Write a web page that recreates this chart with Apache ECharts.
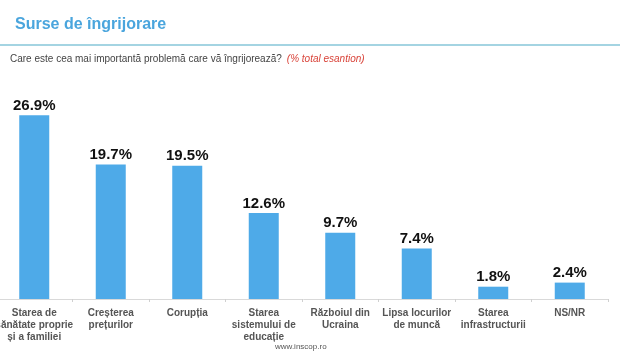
<!DOCTYPE html>
<html>
<head>
<meta charset="utf-8">
<script src="https://cdn.jsdelivr.net/npm/echarts@6/dist/echarts.min.js"></script>
<style>
  html, body { margin: 0; padding: 0; background: #fff; }
  #main { width: 620px; height: 354px; }
</style>
</head>
<body>
<div id="main"></div>
<script>
// categorii si procente
const categories = [
    'Starea de\nsănătate proprie\nși a familiei',
    'Creșterea\nprețurilor',
    'Corupția',
    'Starea\nsistemului de\neducație',
    'Războiul din\nUcraina',
    'Lipsa locurilor\nde muncă',
    'Starea\ninfrastructurii',
    'NS/NR'
];
const values = [26.9, 19.7, 19.5, 12.6, 9.7, 7.4, 1.8, 2.4];

const myChart = echarts.init(document.getElementById('main'));
myChart.setOption({
    animation: false,
    title: [{
        text: 'Surse de îngrijorare',
        left: 15, top: 17, padding: 0,
        textStyle: { color: '#4aa5dd', fontSize: 16, fontWeight: 'bold', fontFamily: 'Liberation Sans' }
    }, {
        text: '{a|Care este cea mai importantă problemă care vă îngrijorează?} {b|(% total esantion)}',
        left: 10, top: 50, padding: 0,
        textStyle: {
            fontWeight: 'normal',
            rich: {
                a: { color: '#444', fontSize: 10, fontWeight: 'normal', fontFamily: 'Liberation Sans' },
                b: { color: '#d9443a', fontSize: 10, fontStyle: 'italic', fontWeight: 'normal', fontFamily: 'Liberation Sans' }
            }
        }
    }, {
        text: 'www.inscop.ro',
        left: 275, top: 343, padding: 0,
        textStyle: { color: '#555', fontSize: 8, fontWeight: 'normal', fontFamily: 'Liberation Sans' }
    }],
    graphic: [{
        type: 'line',
        shape: { x1: 0, y1: 45, x2: 620, y2: 45 },
        style: { stroke: '#86c6d8', lineWidth: 1.5 }
    }],
    grid: { left: -4, right: 12, top: 94, bottom: 55, outerBoundsMode: 'none' },
    xAxis: {
        type: 'category',
        data: categories,
        axisLine: { lineStyle: { color: '#d9d9d9' } },
        axisTick: { show: true, length: 3, lineStyle: { color: '#d0d0d0' } },
        axisLabel: {
            interval: 0, margin: 8, color: '#555', fontSize: 10, fontWeight: 'bold',
            lineHeight: 12, fontFamily: 'Liberation Sans'
        }
    },
    yAxis: { type: 'value', min: 0, max: 30, show: false },
    series: [{
        type: 'bar',
        data: values,
        barWidth: 30,
        itemStyle: { color: '#4eaae8' },
        label: {
            show: true, position: 'top', distance: 2,
            formatter: p => p.value.toFixed(1) + '%',
            color: '#111', fontSize: 15, fontWeight: 'bold', fontFamily: 'Liberation Sans'
        }
    }]
});
</script>
</body>
</html>
